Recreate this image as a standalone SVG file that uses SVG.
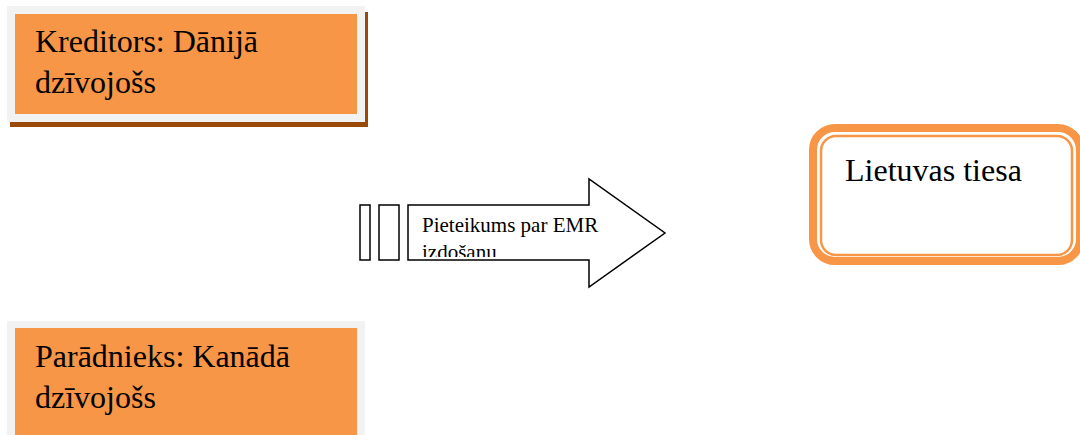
<svg xmlns="http://www.w3.org/2000/svg" width="1080" height="435" viewBox="0 0 1080 435">
<style>
text{font-family:'Liberation Serif','Times New Roman',serif;fill:#000}
.big{font-size:32px}
.small{font-size:21px}
.frame{fill:#f2f2f2}
.fill{fill:#f79646}
.ol{fill:#fff;stroke:#000;stroke-width:1.5}
</style>
<defs>
<clipPath id="arrowClip"><rect x="410" y="206" width="200" height="51"/></clipPath>
</defs>
<rect width="1080" height="435" fill="#fff"/>
<g id="kreditors">
<rect x="10" y="12" width="358" height="115" fill="#9a4a08"/>
<rect class="frame" x="7" y="6" width="358" height="116"/>
<rect class="fill" x="15" y="14" width="342" height="100"/>
<text class="big" font-family="Liberation Serif, serif" x="35" y="52">Kreditors: Dānijā</text>
<text class="big" font-family="Liberation Serif, serif" x="35" y="93">dzīvojošs</text>
</g>
<g id="paradnieks">
<rect class="frame" x="7" y="321" width="358" height="120"/>
<rect class="fill" x="15" y="328" width="342" height="110"/>
<text class="big" font-family="Liberation Serif, serif" x="35" y="367">Parādnieks: Kanādā</text>
<text class="big" font-family="Liberation Serif, serif" x="35" y="408">dzīvojošs</text>
</g>
<g id="tiesa">
<rect x="813" y="128" width="267" height="133" rx="22" ry="22" fill="#fff" stroke="#f79646" stroke-width="8"/>
<rect x="821" y="136" width="251" height="119" rx="15" ry="15" fill="none" stroke="#f79646" stroke-width="2.5"/>
<text class="big" font-family="Liberation Serif, serif" x="845" y="181">Lietuvas tiesa</text>
</g>
<g id="connectors">
<rect class="ol" x="360" y="205" width="10" height="55"/>
<rect class="ol" x="379" y="205" width="20" height="55"/>
<path class="ol" d="M408 205 H589 V179 L665 233 L589 287 V260 H408 Z"/>
<g clip-path="url(#arrowClip)">
<text class="small" x="422" y="232">Pieteikums par EMR</text>
<text class="small" x="422" y="259">izdošanu</text>
</g>
</g>
</svg>
